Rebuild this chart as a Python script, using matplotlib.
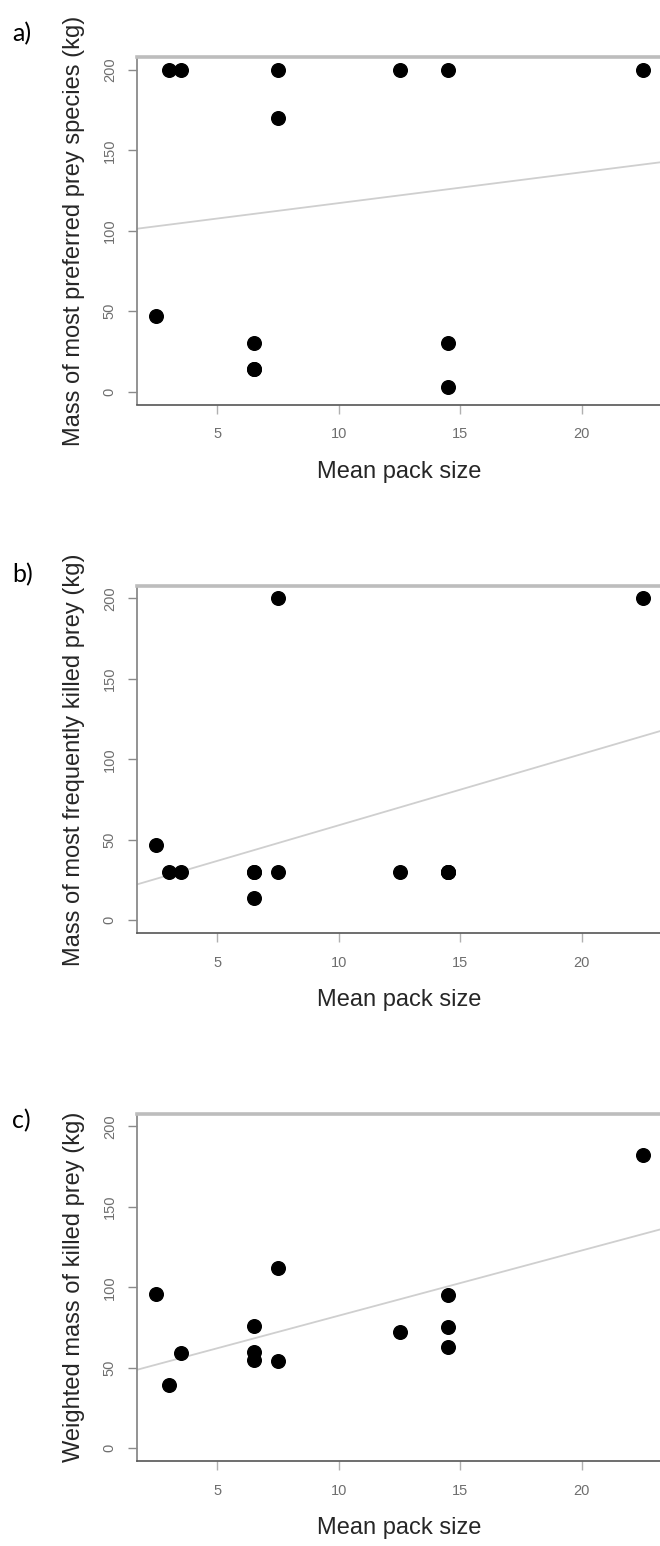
import matplotlib
matplotlib.use('Agg')
import matplotlib.pyplot as plt
import numpy as np

plt.rcParams['font.family'] = ['Liberation Sans', 'DejaVu Sans']

# mean pack size of each population, shared by all three panels
pack_size = [2.5, 3, 3.5, 6.5, 6.5, 6.5, 7.5, 7.5, 12.5, 14.5, 14.5, 14.5, 22.5]

# prey body mass (kg)
preferred_mass = [47, 200, 200, 30, 14, 14, 200, 170, 200, 200, 30, 3, 200]
killed_mass = [47, 30, 30, 30, 14, 30, 30, 200, 30, 30, 30, 30, 200]
weighted_mass = [96, 39, 59, 76, 60, 55, 112, 54, 72, 95, 75, 63, 182]

panel_tags = ['a)', 'b)', 'c)']
y_titles = ['Mass of most preferred prey species (kg)',
            'Mass of most frequently killed prey (kg)',
            'Weighted mass of killed prey (kg)']
x_title = 'Mean pack size'
x_ticks = [5, 10, 15, 20]
y_ticks = [0, 50, 100, 150, 200]

W, H = 660, 1546
fig = plt.figure(figsize=(W / 100, H / 100), dpi=100)

# pixel layout of the three plot regions
left_px, width_px, height_px = 137, 525, 347.5
tops_px = [57, 585.5, 1113.5]
tag_y_px = [41, 582, 1128]

xlim = (1.7, 23.3)
ylim = (-8, 208)

for tag, ymass, ytitle, top, tag_y in zip(panel_tags,
                                          [preferred_mass, killed_mass, weighted_mass],
                                          y_titles, tops_px, tag_y_px):
    ax = fig.add_axes([left_px / W, 1 - (top + height_px) / H,
                       width_px / W, height_px / H])
    x = np.array(pack_size, dtype=float)
    y = np.array(ymass, dtype=float)

    # least squares line drawn right across the plot
    slope, icpt = np.polyfit(x, y, 1)
    xs = np.array(xlim)
    ax.plot(xs, icpt + slope * xs, color='#cfcfcf', lw=1.3, zorder=2)

    ax.plot(x, y, 'o', color='black', ms=9.8, zorder=3)

    ax.set_xlim(*xlim)
    ax.set_ylim(*ylim)
    ax.set_xticks(x_ticks)
    ax.set_yticks(y_ticks)

    ax.spines['right'].set_visible(False)
    ax.spines['top'].set_color('#bdbdbd')
    ax.spines['top'].set_linewidth(2.6)
    ax.spines['left'].set_color('#8a8a8a')
    ax.spines['left'].set_linewidth(1.3)
    ax.spines['bottom'].set_color('#555555')
    ax.spines['bottom'].set_linewidth(1.2)

    ax.tick_params(axis='y', length=6.5, width=1.0, color='#8a8a8a',
                   labelcolor='#6e6e6e', labelsize=10.5, pad=8)
    ax.tick_params(axis='x', length=6.5, width=1.0, color='#b0b0b0',
                   labelcolor='#6e6e6e', labelsize=10.5, pad=10)
    plt.setp(ax.get_yticklabels(), rotation=90, va='center')

    ax.set_ylabel(ytitle, fontsize=17, color='#262626', labelpad=13)
    ax.set_xlabel(x_title, fontsize=17, color='#262626', labelpad=14)

    fig.text(12 / W, 1 - tag_y / H, tag, fontsize=18, family=['Lato', 'DejaVu Sans'],
             color='black', ha='left', va='baseline')

fig.savefig('out.png', dpi=100)
